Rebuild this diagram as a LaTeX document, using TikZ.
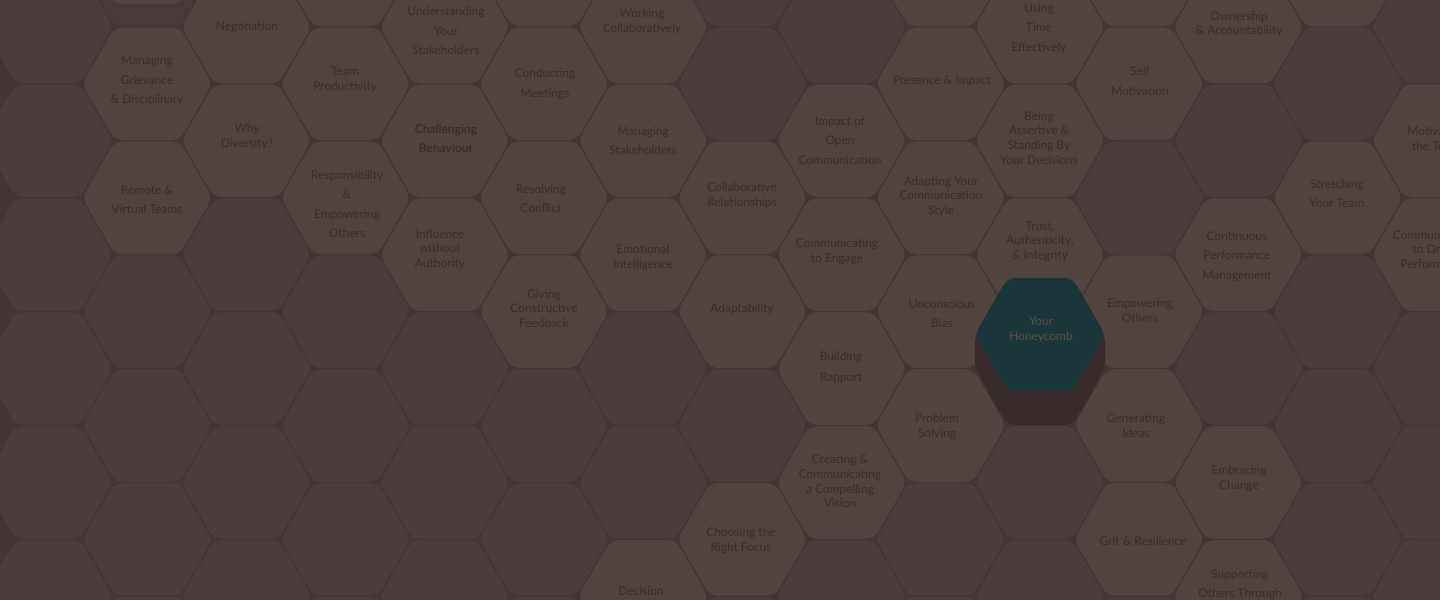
\documentclass[tikz,border=0pt]{standalone}
\usepackage{fontspec}
\setmainfont{Lato}

\definecolor{gapline}{RGB}{68,54,52}
\definecolor{emptyfill}{RGB}{76,62,60}
\definecolor{skillfill}{RGB}{83,67,65}
\definecolor{skilltext}{RGB}{60,46,44}
\definecolor{honeyface}{RGB}{27,54,59}
\definecolor{honeytext}{RGB}{92,76,73}
\definecolor{honeyside}{RGB}{58,43,42}
\definecolor{liftside}{RGB}{72,58,56}

\tikzset{
  emptycell/.style={fill=emptyfill, rounded corners=8bp},
  skillcell/.style={fill=skillfill, rounded corners=8bp},
  skill/.style={text=skilltext, align=center, inner sep=0pt, font=\fontsize{12}{14.7}\selectfont},
  loose/.style={font=\fontsize{12}{19.5}\selectfont},
}

% cell centre from column and row of the honeycomb
\newcommand{\cellxy}[2]{%
  \pgfmathsetmacro{\hx}{48+99.2*#1}%
  \pgfmathsetmacro{\hy}{368.55+56.95*mod(#1,2)+113.9*(#2-3)}}

\newcommand{\hexcell}[3]{%
  \cellxy{#1}{#2}%
  \path[#3] (\hx,\hy) ++(-65,0) -- ++(32.5,-56.3) -- ++(65,0) -- ++(32.5,56.3)
    -- ++(-32.5,56.3) -- ++(-65,0) -- cycle;}

% raised cell: column, row, lift, side colour, face style
\newcommand{\raisedcell}[5]{%
  \cellxy{#1}{#2}%
  \pgfmathsetmacro{\fy}{\hy-#3}%
  \path[fill=#4, rounded corners=8bp] (\hx-65,\fy) -- (\hx-65,\hy) -- (\hx-32.5,\hy+56.3)
    -- (\hx+32.5,\hy+56.3) -- (\hx+65,\hy) -- (\hx+65,\fy) -- (\hx+32.5,\fy-56.3)
    -- (\hx-32.5,\fy-56.3) -- cycle;
  \path[#5] (\hx,\fy) ++(-65,0) -- ++(32.5,-56.3) -- ++(65,0) -- ++(32.5,56.3)
    -- ++(-32.5,56.3) -- ++(-65,0) -- cycle;}

\begin{document}
\begin{tikzpicture}[x=1bp, y=-1bp]
    \useasboundingbox (0,0) rectangle (1440,600);
    \fill[gapline] (-20,-20) rectangle (1460,620);

    \foreach \k in {0,...,14}
        \foreach \r in {-1,...,5}
            \hexcell{\k}{\r}{emptycell};

    \foreach \k/\r in {1/0, 1/1, 2/0, 2/1, 3/-1, 3/0, 3/1, 4/0, 4/1, 4/2, 5/-1, 5/0, 5/1, 5/2,
        6/0, 6/1, 6/2, 6/5, 7/1, 7/2, 7/4, 8/1, 8/2, 8/3, 8/4, 9/-1, 9/0, 9/1, 9/2, 9/3,
        10/0, 10/1, 10/2, 11/-1, 11/0, 11/2, 11/3, 11/4, 12/0, 12/2, 12/4, 12/5,
        13/-1, 13/1, 14/1, 14/2}
        \hexcell{\k}{\r}{skillcell};

    \raisedcell{1}{-1}{22}{liftside}{skillcell}
    \raisedcell{10}{3}{34}{honeyside}{fill=honeyface, rounded corners=8bp}

    \node[skill, loose] (grievance) at (147,81) {Managing\\Grievance\\\& Disciplinary};
    \node[skill, loose] (remote) at (147,199.5) {Remote \&\\Virtual Teams};
    \node[skill] (negotiation) at (247,27) {Negotiation};
    \node[skill] (diversity) at (247,136.5) {Why\\Diversity?};
    \node[skill] (productivity) at (345,79.5) {Team\\Productivity};
    \node[skill, loose] (responsibility) at (347,204) {Responsibility\\\&\\Empowering\\Others};
    \node[skill, loose] (understanding) at (446,31) {Understanding\\Your\\Stakeholders};
    \node[skill, font=\fontsize{12}{19.5}\selectfont\bfseries] (challenging) at (446,138.5) {Challenging\\Behaviour};
    \node[skill] (influence) at (440,249.5) {Influence\\without\\Authority};
    \node[skill, loose] (meetings) at (545,84) {Conducting\\Meetings};
    \node[skill, loose] (conflict) at (541,198.5) {Resolving\\Conflict};
    \node[skill] (feedback) at (544,308.5) {Giving\\Constructive\\Feedback};
    \node[skill] (collaboratively) at (642,21.5) {Working\\Collaboratively};
    \node[skill, loose] (stakeholders) at (643,140.5) {Managing\\Stakeholders};
    \node[skill] (emotional) at (643,257.5) {Emotional\\Intelligence};
    \node[skill] (decision) at (641,591) {Decision};
    \node[skill] (relationships) at (742,195.5) {Collaborative\\Relationships};
    \node[skill] (adaptability) at (742,309) {Adaptability};
    \node[skill] (focus) at (741,541) {Choosing the\\Right Focus};
    \node[skill, loose] (openness) at (840,140.5) {Impact of\\Open\\Communication};
    \node[skill] (engage) at (837,251.5) {Communicating\\to Engage};
    \node[skill, font=\fontsize{12}{21}\selectfont] (rapport) at (841,367.5) {Building\\Rapport};
    \node[skill] (vision) at (840,481.5) {Creating \&\\Communicating\\a Compelling\\Vision};
    \node[skill] (presence) at (942,81) {Presence \& Impact};
    \node[skill] (adapting) at (941,196.5) {Adapting Your\\Communication\\Style};
    \node[skill, loose] (bias) at (942,313.5) {Unconscious\\Bias};
    \node[skill] (problem) at (937,427) {Problem\\Solving};
    \node[skill, loose] (timeuse) at (1039,28.5) {Using\\Time\\Effectively};
    \node[skill] (assertive) at (1039,138) {Being\\Assertive \&\\Standing By\\Your Decisions};
    \node[skill] (trust) at (1040,241.5) {Trust,\\Authenticity,\\\& Integrity};
    \node[skill, text=honeytext] (honeycomb) at (1041,329.5) {Your\\Honeycomb};
    \node[skill, loose] (motivation) at (1140,81) {Self\\Motivation};
    \node[skill] (empowering) at (1140,311) {Empowering\\Others};
    \node[skill] (ideas) at (1136,425.5) {Generating\\Ideas};
    \node[skill] (grit) at (1143,541) {Grit \& Resilience};
    \node[skill] (ownership) at (1239,24) {Ownership\\\& Accountability};
    \node[skill, loose] (performance) at (1237,256.5) {Continuous\\Performance\\Management};
    \node[skill] (embracing) at (1239,478.5) {Embracing\\Change};
    \node[skill, loose] (supporting) at (1240,584.5) {Supporting\\Others Through};
    \node[skill, loose] (stretching) at (1337,193.5) {Stretching\\Your Team};
    \node[skill] (motivating) at (1436,138.5) {Motivating\\the Team};
    \node[skill] (drive) at (1434,249.5) {Communicating\\to Drive\\Performance};
\end{tikzpicture}
\end{document}
